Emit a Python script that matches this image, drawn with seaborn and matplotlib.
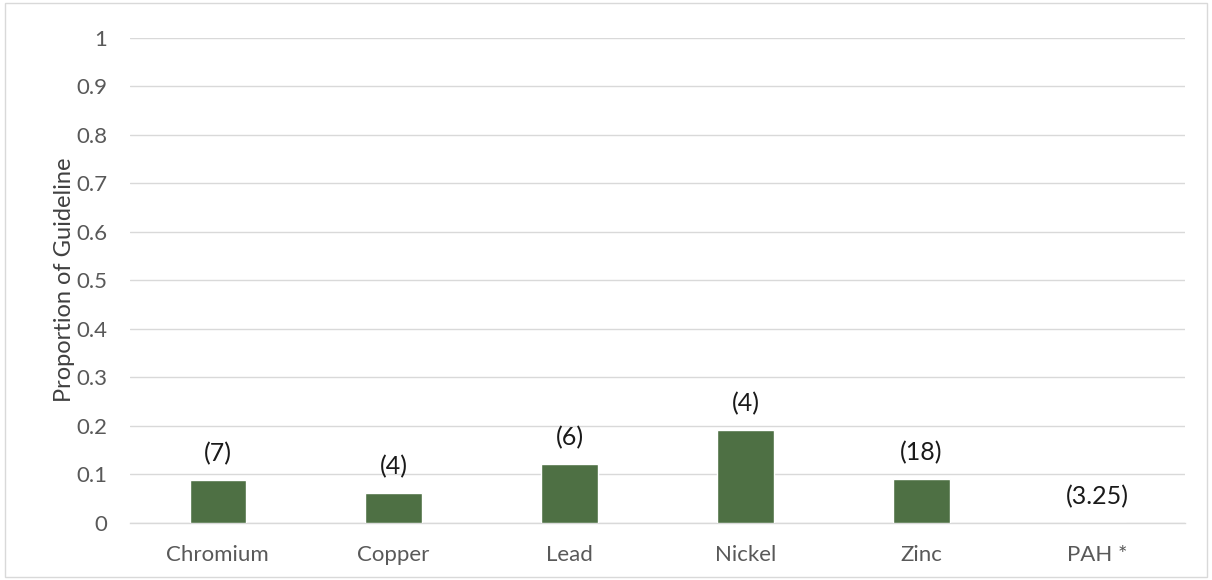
import matplotlib
matplotlib.use("Agg")
import matplotlib.pyplot as plt
import seaborn as sns
import pandas as pd

categories = ["Chromium", "Copper", "Lead", "Nickel", "Zinc", "PAH *"]
proportions = [0.087, 0.061, 0.120, 0.190, 0.089, 0.0]
counts = ["(7)", "(4)", "(6)", "(4)", "(18)", "(3.25)"]
y_ticks = [0, 0.1, 0.2, 0.3, 0.4, 0.5, 0.6, 0.7, 0.8, 0.9, 1]
y_tick_labels = ["0", "0.1", "0.2", "0.3", "0.4", "0.5", "0.6", "0.7", "0.8", "0.9", "1"]

df = pd.DataFrame({"Metal": categories, "Proportion": proportions})

sns.set_theme(style="white")
plt.rcParams["font.family"] = ["Lato", "DejaVu Sans"]

fig = plt.figure(figsize=(12.12, 5.8), dpi=100)
ax = fig.add_axes([0.107, 0.099, 0.871, 0.836])

sns.barplot(data=df, x="Metal", y="Proportion", color="#4E7044", saturation=1,
            width=0.32, ax=ax, zorder=3)

ax.set_ylim(0, 1)
ax.set_xlim(-0.5, len(categories) - 0.5)
ax.set_yticks(y_ticks)
ax.set_yticklabels(y_tick_labels)
ax.yaxis.grid(True, color="#D9D9D9", linewidth=1.0, zorder=0)
ax.set_axisbelow(True)
for s in ["top", "right", "left"]:
    ax.spines[s].set_visible(False)
ax.spines["bottom"].set_color("#D9D9D9")
ax.spines["bottom"].set_linewidth(1.0)
ax.tick_params(axis="both", length=0, colors="#595959", labelsize=16)
ax.tick_params(axis="y", pad=16)
ax.tick_params(axis="x", pad=16)
ax.set_xlabel("")
ax.set_ylabel("Proportion of Guideline", fontsize=17, color="#404040")
ax.yaxis.set_label_coords(-0.052, 0.5)

for i, (v, lab) in enumerate(zip(proportions, counts)):
    ax.annotate(lab, (i, v), xytext=(0, 19), textcoords="offset points",
                ha="center", va="center", fontsize=18, color="#1a1a1a")

# light frame around the whole chart
fig.patches.append(plt.Rectangle((0.004, 0.005), 0.992, 0.99, transform=fig.transFigure,
                                 fill=False, edgecolor="#D9D9D9", linewidth=1.0))

fig.savefig("out.png", dpi=100, facecolor="white")
